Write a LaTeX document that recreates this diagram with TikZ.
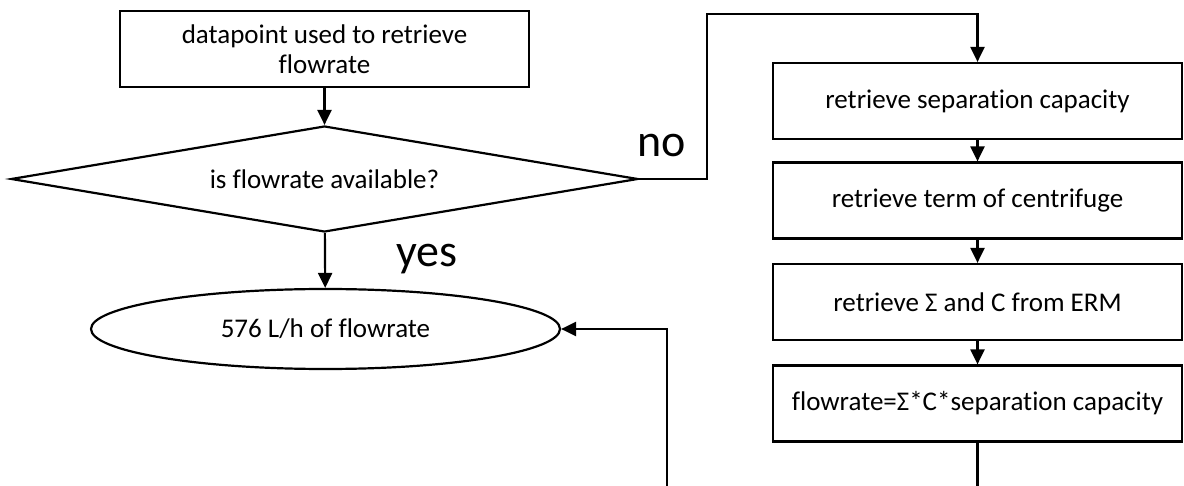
\documentclass[tikz,border=0pt]{standalone}
\usepackage{fontspec}
\setmainfont[Ligatures=NoCommon]{Carlito}
\usetikzlibrary{shapes.geometric,arrows.meta}
\begin{document}
\begin{tikzpicture}[x=1pt,y=-1pt,
  line width=2.2pt,
  arr/.style={-{Triangle[length=15pt,width=14pt]}},
  lbox/.style={draw,rectangle,minimum width=409pt,minimum height=76pt,inner sep=0pt,align=center,font=\fontsize{27}{30}\selectfont},
  rbox/.style={draw,rectangle,minimum width=409pt,minimum height=76pt,inner sep=0pt,align=center,font=\fontsize{27}{30}\selectfont},
  dec/.style={draw,diamond,shape aspect=5.9,minimum width=627pt,minimum height=106pt,inner sep=0pt,font=\fontsize{27}{30}\selectfont},
  term/.style={draw,ellipse,minimum width=469pt,minimum height=80pt,inner sep=0pt,font=\fontsize{27}{30}\selectfont},
  lab/.style={font=\fontsize{46}{50}\selectfont,inner sep=0pt,anchor=base}]
\useasboundingbox (0,0) rectangle (1184,486);
\node[lbox] (start) at (324.5,49) {datapoint used to retrieve\\flowrate};
\node[dec] (q) at (324.5,179) {is flowrate available?};
\node[term] (res) at (325.5,329) {576 L/h of flowrate};
\node[rbox] (b1) at (977.5,101) {retrieve separation capacity};
\node[rbox] (b2) at (977.5,200.5) {retrieve term of centrifuge};
\node[rbox] (b3) at (977.5,302) {retrieve Σ and C from ERM};
\node[rbox] (b4) at (977.5,403.5) {flowrate=Σ*C*separation capacity};
\node[lab] (no) at (662,157) {no};
\node[lab] (yes) at (427,267) {yes};
\coordinate (n1) at (707,179);
\coordinate (n2) at (707,14);
\coordinate (n3) at (977.5,14);
\coordinate (f1) at (977.5,500);
\coordinate (f2) at (667,500);
\coordinate (f3) at (667,329);
\draw[arr] (start) -- (q);
\draw[arr] (q) -- (res);
\draw[arr] (q.east) -- (n1) -- (n2) -- (n3) -- (b1);
\draw[arr] (b1) -- (b2);
\draw[arr] (b2) -- (b3);
\draw[arr] (b3) -- (b4);
\begin{scope}
\clip (0,0) rectangle (1184,486);
\draw[arr] (b4) -- (f1) -- (f2) -- (f3) -- (res.east);
\end{scope}
\end{tikzpicture}
\end{document}
